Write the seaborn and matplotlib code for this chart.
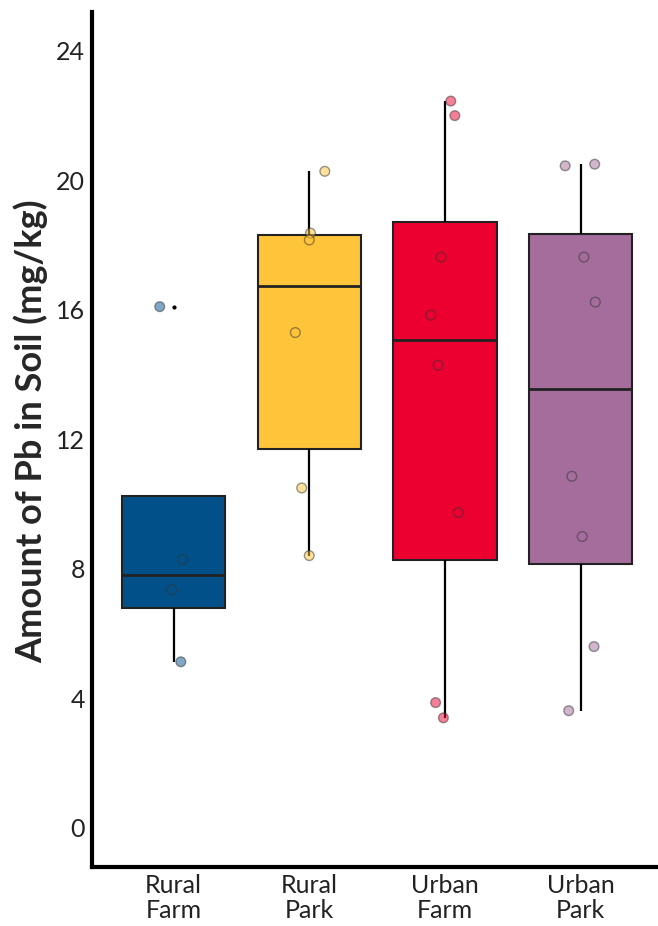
import numpy as np
import pandas as pd
import matplotlib
matplotlib.use("Agg")
import matplotlib.pyplot as plt
import seaborn as sns

# ==========================================
# Data (Pb in soil, mg/kg)
# ==========================================
groups = ["Rural\nFarm", "Rural\nPark", "Urban\nFarm", "Urban\nPark"]
rural_farm = [16.1, 8.29, 7.36, 5.13]
rural_park = [20.28, 18.37, 18.16, 15.3, 10.5, 8.41]
urban_farm = [22.45, 22.0, 17.63, 15.84, 14.29, 9.74, 3.87, 3.4]
urban_park = [20.5, 20.45, 17.63, 16.24, 10.86, 9.0, 5.6, 3.62]
group_colors = ["#02508A", "#FFC53A", "#EB0030", "#A46D9B"]
y_ticks = [0, 4, 8, 12, 16, 20, 24]

df = pd.DataFrame({
    "site": (
        [groups[0]] * len(rural_farm)
        + [groups[1]] * len(rural_park)
        + [groups[2]] * len(urban_farm)
        + [groups[3]] * len(urban_park)
    ),
    "pb": rural_farm + rural_park + urban_farm + urban_park,
})

sns.set_style("white")
plt.rcParams["font.family"] = ["Lato", "DejaVu Sans"]

fig = plt.figure(figsize=(6.58, 9.26), dpi=100)
ax = fig.add_axes([0.14, 0.064, 0.86, 0.923])

palette = dict(zip(groups, group_colors))

sns.boxplot(
    data=df, x="site", y="pb", hue="site", order=groups, hue_order=groups,
    palette=palette, width=0.76, linecolor="#222222", linewidth=1.5,
    showcaps=False, saturation=1, legend=False, ax=ax,
    whiskerprops=dict(color="black", linewidth=1.6),
    medianprops=dict(color="#222222", linewidth=2),
    flierprops=dict(marker="o", markersize=2, markerfacecolor="black",
                    markeredgecolor="black"),
)

# jittered raw points on top
np.random.seed(7)
sns.stripplot(
    data=df, x="site", y="pb", hue="site", order=groups, hue_order=groups,
    palette=palette, jitter=0.12, size=7, alpha=0.5, linewidth=1,
    edgecolor="#333333", legend=False, ax=ax,
)

ax.set_xlim(-0.6, 3.57)
ax.set_ylim(-1.2, 25.2)
ax.set_yticks(y_ticks)
ax.set_yticklabels([str(t) for t in y_ticks])
ax.set_xlabel("")
ax.set_ylabel("Amount of Pb in Soil (mg/kg)", fontsize=26, fontweight="bold",
              labelpad=6, y=0.51)

for side in ["top", "right"]:
    ax.spines[side].set_visible(False)
for side in ["left", "bottom"]:
    ax.spines[side].set_linewidth(3)
    ax.spines[side].set_color("black")

ax.tick_params(axis="both", which="both", length=3, width=1, color="#555555",
               labelsize=18, labelcolor="#222222", pad=2)
ax.tick_params(axis="x", pad=2)
for lab in ax.get_xticklabels():
    lab.set_linespacing(1.1)

plt.savefig("out.png", dpi=100)
plt.close()
